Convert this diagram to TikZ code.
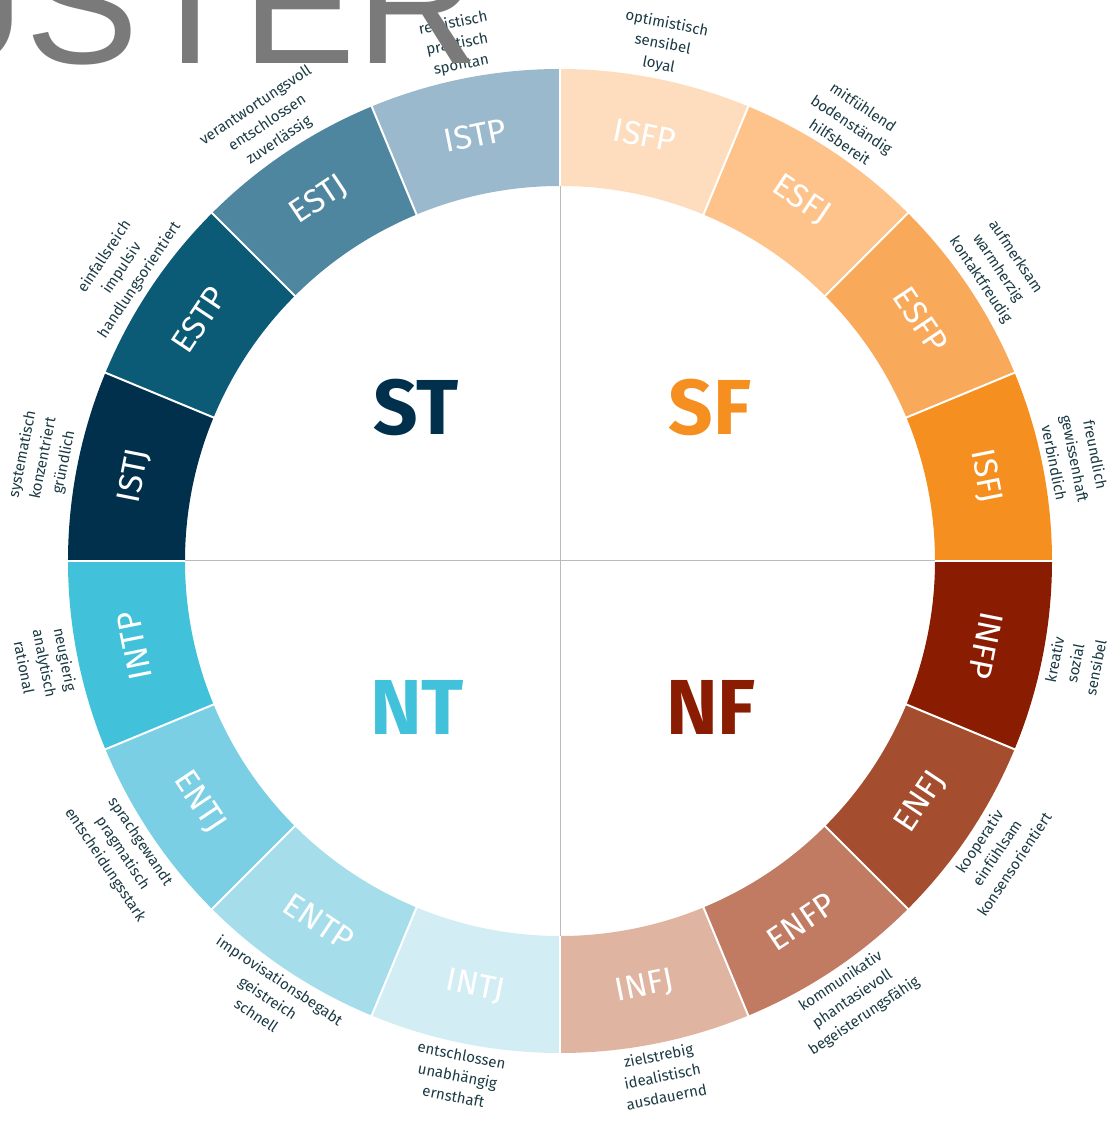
\documentclass[tikz,border=0pt]{standalone}
\usepackage{fontspec}
\setmainfont{Fira Sans}
\newfontfamily\watermarkfont{Liberation Sans}
\definecolor{ISFP}{HTML}{FDDDBD}
\definecolor{ESFJ}{HTML}{FDC38B}
\definecolor{ESFP}{HTML}{F9A95A}
\definecolor{ISFJ}{HTML}{F58F20}
\definecolor{INFP}{HTML}{8A1C02}
\definecolor{ENFJ}{HTML}{A44D2F}
\definecolor{ENFP}{HTML}{C07B62}
\definecolor{INFJ}{HTML}{DFB4A0}
\definecolor{INTJ}{HTML}{D3EDF4}
\definecolor{ENTP}{HTML}{A5DDEA}
\definecolor{ENTJ}{HTML}{7ACFE4}
\definecolor{INTP}{HTML}{42C2DA}
\definecolor{ISTJ}{HTML}{00304B}
\definecolor{ESTP}{HTML}{0B5A76}
\definecolor{ESTJ}{HTML}{4E869F}
\definecolor{ISTP}{HTML}{9BB9CC}
\definecolor{adjText}{HTML}{1B3A44}
\definecolor{crossGray}{HTML}{BBBBBB}
\definecolor{watermarkGray}{HTML}{7A7A7A}
\begin{document}
\begin{tikzpicture}[x=1pt,y=1pt]
    \newcommand{\ringIn}{375pt}
    \newcommand{\ringOut}{492pt}
    \tikzset{
        typelabel/.style={text=white, inner sep=0pt, font=\fontsize{33}{33}\selectfont},
        adjectives/.style={text=adjText, align=center, inner sep=0pt, font=\fontsize{15}{21}\selectfont},
        grouplabel/.style={inner sep=0pt, font=\fontsize{78}{78}\selectfont\bfseries}
    }
  \useasboundingbox (-560,-563) rectangle (551,561);

  \foreach \ang/\typ/\rotT/\rotA/\side/\adj in {
    78.75/ISFP/-11.25/-11.25/south/{optimistisch\\sensibel\\loyal},
    56.25/ESFJ/-33.75/-33.75/south/{mitfühlend\\bodenständig\\hilfsbereit},
    33.75/ESFP/-56.25/-56.25/south/{aufmerksam\\warmherzig\\kontaktfreudig},
    11.25/ISFJ/-78.75/-78.75/south/{freundlich\\gewissenhaft\\verbindlich},
    -11.25/INFP/-101.25/78.75/north/{kreativ\\sozial\\sensibel},
    -33.75/ENFJ/56.25/56.25/north/{kooperativ\\einfühlsam\\konsensorientiert},
    -56.25/ENFP/33.75/33.75/north/{kommunikativ\\phantasievoll\\begeisterungsfähig},
    -78.75/INFJ/11.25/11.25/north/{zielstrebig\\idealistisch\\ausdauernd},
    -101.25/INTJ/-11.25/-11.25/north/{entschlossen\\unabhängig\\ernsthaft},
    -123.75/ENTP/-33.75/-33.75/north/{improvisationsbegabt\\geistreich\\schnell},
    -146.25/ENTJ/-56.25/-56.25/north/{sprachgewandt\\pragmatisch\\entscheidungsstark},
    -168.75/INTP/101.25/-78.75/north/{neugierig\\analytisch\\rational},
    168.75/ISTJ/78.75/78.75/south/{systematisch\\konzentriert\\gründlich},
    146.25/ESTP/56.25/56.25/south/{einfallsreich\\impulsiv\\handlungsorientiert},
    123.75/ESTJ/33.75/33.75/south/{verantwortungsvoll\\entschlossen\\zuverlässig},
    101.25/ISTP/11.25/11.25/south/{realistisch\\praktisch\\spontan}}
  {
    \fill[\typ] ({\ang+11.25}:\ringIn) arc[start angle={\ang+11.25}, end angle={\ang-11.25}, radius=\ringIn]
      -- ({\ang-11.25}:\ringOut) arc[start angle={\ang-11.25}, end angle={\ang+11.25}, radius=\ringOut] -- cycle;
    \node[typelabel, rotate=\rotT] (\typ) at (\ang:434pt) {\typ};
    \node[adjectives, rotate=\rotA, anchor=\side] (\typ-adj) at (\ang:498pt) {\adj};
  }
  \foreach \b in {0,22.5,...,337.5}
    \draw[white, line width=2pt] (\b:370pt) -- (\b:497pt);

  \coordinate (crossTop) at (90:\ringIn);
  \coordinate (crossBottom) at (-90:\ringIn);
  \coordinate (crossLeft) at (180:\ringIn);
  \coordinate (crossRight) at (0:\ringIn);
  \draw[crossGray, line width=1pt] (crossTop) -- (crossBottom);
  \draw[crossGray, line width=1pt] (crossLeft) -- (crossRight);

  \node[grouplabel, text=ISTJ] (ST) at (-144,154) {ST};
  \node[grouplabel, text=ISFJ] (SF) at (150,154) {SF};
  \node[grouplabel, text=INTP] (NT) at (-143,-146) {NT};
  \node[grouplabel, text=INFP] (NF) at (151,-146) {NF};

  \node[anchor=base west, inner sep=0pt, text=watermarkGray, font=\watermarkfont\fontsize{170}{170}\selectfont] (watermark) at (-657.5,497) {USTER};
\end{tikzpicture}
\end{document}
